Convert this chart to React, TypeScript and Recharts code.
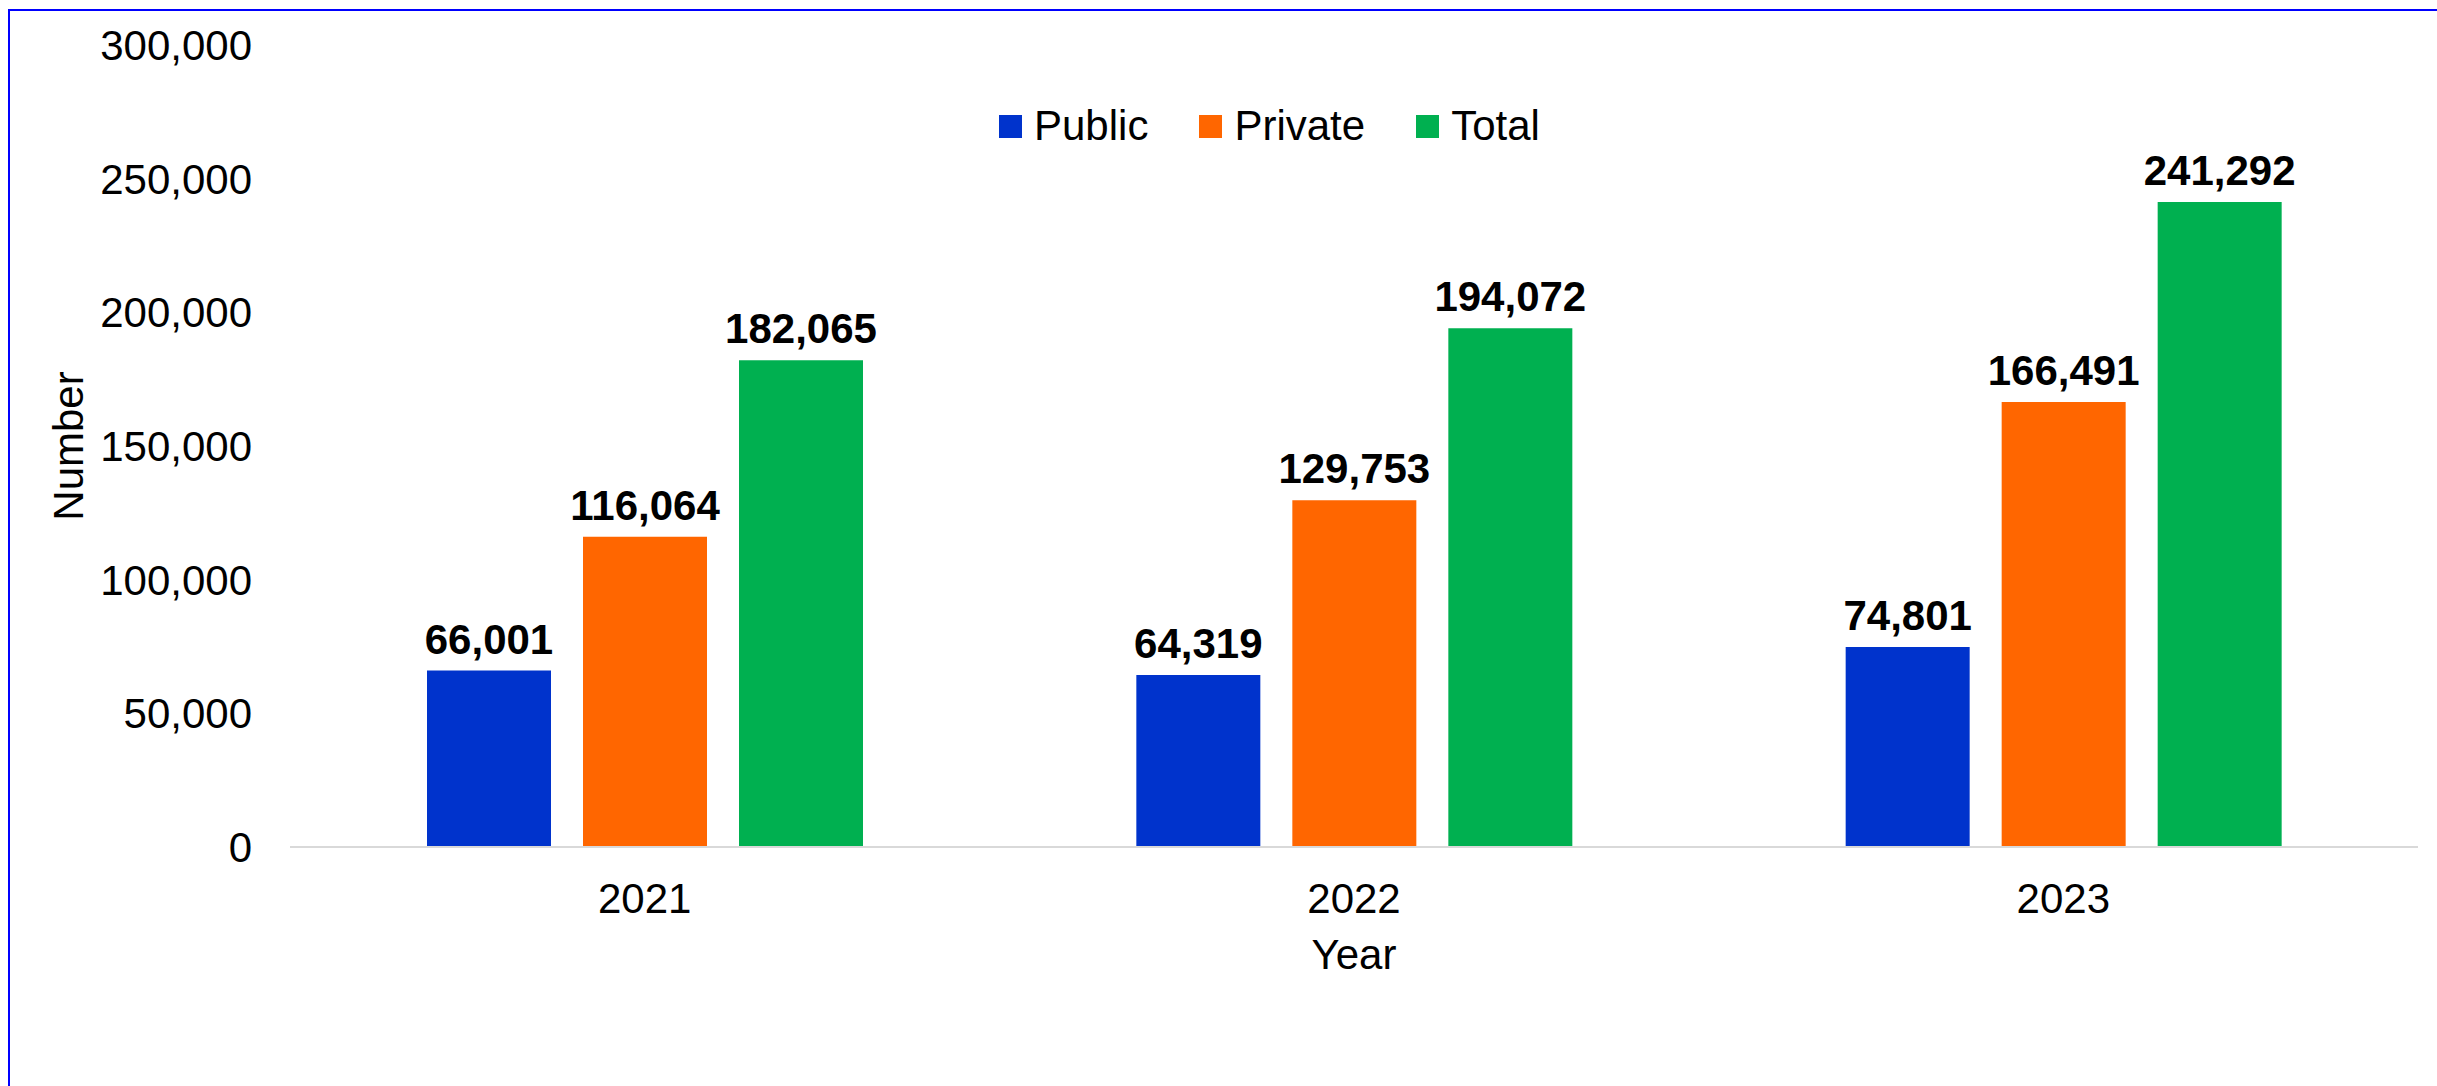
import { Bar, BarChart, LabelList, Legend, XAxis, YAxis } from 'recharts'

const years = ['2021', '2022', '2023']
const publicValues = [66001, 64319, 74801]
const privateValues = [116064, 129753, 166491]
const totalValues = [182065, 194072, 241292]
const yTicks = [0, 50000, 100000, 150000, 200000, 250000, 300000]

const series = [
  { key: 'Public', color: '#0033CC' },
  { key: 'Private', color: '#FF6600' },
  { key: 'Total', color: '#00B050' },
]

const data = years.map((year, i) => ({
  year,
  Public: publicValues[i],
  Private: privateValues[i],
  Total: totalValues[i],
}))

const font = '"Liberation Sans", Arial, sans-serif'
const fmt = (v: number) => v.toLocaleString('en-US')

function renderYLabel(props: any) {
  const vb = props.viewBox
  const x = vb.x + 68
  const y = vb.y + vb.height / 2
  return (
    <text x={x} y={y} dy="0.35em" textAnchor="middle" transform={`rotate(-90, ${x}, ${y})`}
      fontSize={42} fontFamily={font} fill="#000">
      Number
    </text>
  )
}

function renderXLabel(props: any) {
  const vb = props.viewBox
  return (
    <text x={vb.x + vb.width / 2} y={vb.y + 122} textAnchor="middle" fontSize={42} fontFamily={font} fill="#000">
      Year
    </text>
  )
}

function renderLegend() {
  return (
    <div style={{ display: 'flex', alignItems: 'center', fontFamily: font, fontSize: 42, lineHeight: '42px' }}>
      {series.map((s, i) => (
        <div key={s.key} style={{ display: 'flex', alignItems: 'center', marginLeft: i === 0 ? 0 : 51 }}>
          <span style={{ width: 23, height: 23, background: s.color, display: 'inline-block', marginRight: 12 }} />
          <span style={{ color: '#000' }}>{s.key}</span>
        </div>
      ))}
    </div>
  )
}

export default function App() {
  return (
    <div style={{ position: 'absolute', left: 0, top: 0, width: 2437, height: 1086, background: '#fff', overflow: 'hidden' }}>
      <div style={{ position: 'absolute', left: 8, top: 9, width: 2600, height: 1200, borderTop: '2px solid #0000FF', borderLeft: '2px solid #0000FF' }} />
      <BarChart
        width={2437}
        height={1086}
        data={data}
        margin={{ top: 45, right: 19, left: 0, bottom: 89 }}
        barSize={124}
        barGap={32}
        style={{ fontFamily: font }}
      >
        <XAxis
          dataKey="year"
          height={150}
          tickLine={false}
          tickSize={0}
          tickMargin={36}
          axisLine={{ stroke: '#d9d9d9', strokeWidth: 2 }}
          tick={{ fontSize: 42, fill: '#000', fontFamily: font }}
          label={renderXLabel}
        />
        <YAxis
          width={290}
          domain={[0, 300000]}
          ticks={yTicks}
          tickFormatter={fmt}
          axisLine={false}
          tickLine={false}
          tickSize={0}
          tickMargin={38}
          tick={{ fontSize: 42, fill: '#000', fontFamily: font }}
          label={renderYLabel}
        />
        <Legend
          layout="horizontal"
          verticalAlign="middle"
          align="center"
          content={renderLegend}
          wrapperStyle={{ top: 105, left: 999, width: 'auto' }}
        />
        {series.map((s) => (
          <Bar key={s.key} dataKey={s.key} fill={s.color} isAnimationActive={false}>
            <LabelList
              dataKey={s.key}
              position="top"
              offset={17}
              formatter={(v: any) => fmt(Number(v))}
              style={{ fontSize: 42, fontWeight: 'bold', fill: '#000', fontFamily: font }}
            />
          </Bar>
        ))}
      </BarChart>
    </div>
  )
}
